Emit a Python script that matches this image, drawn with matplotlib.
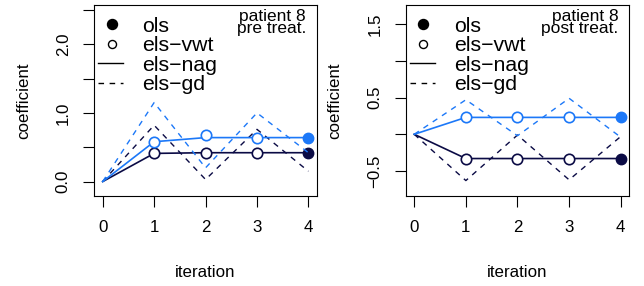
import matplotlib.pyplot as plt
from matplotlib.lines import Line2D

plt.rcParams['font.family'] = ['Liberation Sans', 'DejaVu Sans']

# iterations of the estimators
iters = [0, 1, 2, 3, 4]
vwt_iters = [1, 2, 3]

# pre treatment (patient 8): two coefficients
pre_gd_dark = [0, 0.82, 0.03, 0.76, 0.15]
pre_gd_blue = [0, 1.15, 0.20, 1.00, 0.42]
pre_nag_dark = [0, 0.41, 0.42, 0.42, 0.42]
pre_nag_blue = [0, 0.58, 0.64, 0.64, 0.64]
pre_vwt_dark = [0.41, 0.42, 0.41]
pre_vwt_blue = [0.58, 0.68, 0.64]
pre_ols = [0.41, 0.64]  # dark, blue

# post treatment (patient 8)
post_gd_dark = [0, -0.63, -0.01, -0.62, -0.03]
post_gd_blue = [0, 0.47, -0.02, 0.49, -0.04]
post_nag_dark = [0, -0.33, -0.33, -0.33, -0.33]
post_nag_blue = [0, 0.23, 0.23, 0.23, 0.23]
post_vwt_dark = [-0.33, -0.33, -0.33]
post_vwt_blue = [0.23, 0.23, 0.23]
post_ols = [-0.33, 0.23]

legend_labels = ['ols', 'els\u2212vwt', 'els\u2212nag', 'els\u2212gd']

dark = '#0b0b45'
blue = '#1c78f8'

fig = plt.figure(figsize=(6.44, 2.86), dpi=100)


def panel(rect, gd, nag, vwt, ols, ylim, yticks, ylabels, title):
	ax = fig.add_axes(rect)
	for g, n, v, o, c in zip(gd, nag, vwt, ols, [dark, blue]):
		ax.plot(iters, g, color=c, lw=1.0, ls=(0, (4, 4)))
		ax.plot(iters, n, color=c, lw=1.2)
		ax.plot(vwt_iters, v, 'o', color=c, mfc='white', ms=7.5, mew=1.2)
		ax.plot([iters[-1]], [o], 'o', color=c, ms=7.5)
	ax.set_xlim(-0.16, 4.16)
	ax.set_ylim(*ylim)
	ax.set_xticks(iters)
	ax.set_yticks(yticks)
	ax.set_yticklabels(ylabels, rotation=90, va='center')
	ax.tick_params(direction='out', length=8, width=0.8, labelsize=12.2)
	ax.tick_params(axis='x', pad=9)
	ax.tick_params(axis='y', pad=9)
	for s in ax.spines.values():
		s.set_linewidth(0.8)

	ax.set_xlabel('iteration', fontsize=12.2, va='baseline')
	ax.xaxis.set_label_coords(0.5, -0.4225)
	ax.set_ylabel('coefficient', fontsize=12.2)
	ax.yaxis.label.set_rotation_mode('anchor')
	ax.yaxis.label.set_va('baseline')
	ax.yaxis.label.set_ha('center')
	ax.yaxis.set_label_coords(-0.298, 0.5)

	# legend, R style
	rows = [0.90, 0.796, 0.694, 0.592]
	base = [0.861, 0.758, 0.657, 0.555]
	ax.plot([0.077], [rows[0]], 'o', color='black', ms=7.2, transform=ax.transAxes)
	ax.plot([0.077], [rows[1]], 'o', color='black', mfc='white', ms=5.8, mew=1.0, transform=ax.transAxes)
	ax.add_line(Line2D([0.016, 0.128], [rows[2]] * 2, color='black', lw=1.0, transform=ax.transAxes))
	ax.add_line(Line2D([0.016, 0.128], [rows[3]] * 2, color='black', lw=1.0, ls=(0, (4, 4)), transform=ax.transAxes))
	for b, lab in zip(base, legend_labels):
		ax.text(0.214, b, lab, transform=ax.transAxes, fontsize=15.3, va='baseline', ha='left')

	ax.text(0.952, 0.853, 'patient 8\n' + title, transform=ax.transAxes, fontsize=12.5,
		ha='right', va='baseline', multialignment='right', linespacing=0.72)
	return ax


panel([0.1467, 0.3147, 0.3450, 0.6678],
	[pre_gd_dark, pre_gd_blue], [pre_nag_dark, pre_nag_blue],
	[pre_vwt_dark, pre_vwt_blue], pre_ols,
	(-0.21, 2.57), [0, 0.5, 1, 1.5, 2, 2.5], ['0.0', '', '1.0', '', '2.0', ''],
	'pre treat.')

panel([0.6304, 0.3147, 0.3463, 0.6678],
	[post_gd_dark, post_gd_blue], [post_nag_dark, post_nag_blue],
	[post_vwt_dark, post_vwt_blue], post_ols,
	(-0.84, 1.76), [-0.5, 0, 0.5, 1, 1.5], ['\u22120.5', '', '0.5', '', '1.5'],
	'post treat.')

plt.savefig('out.png', dpi=100)
plt.close()
